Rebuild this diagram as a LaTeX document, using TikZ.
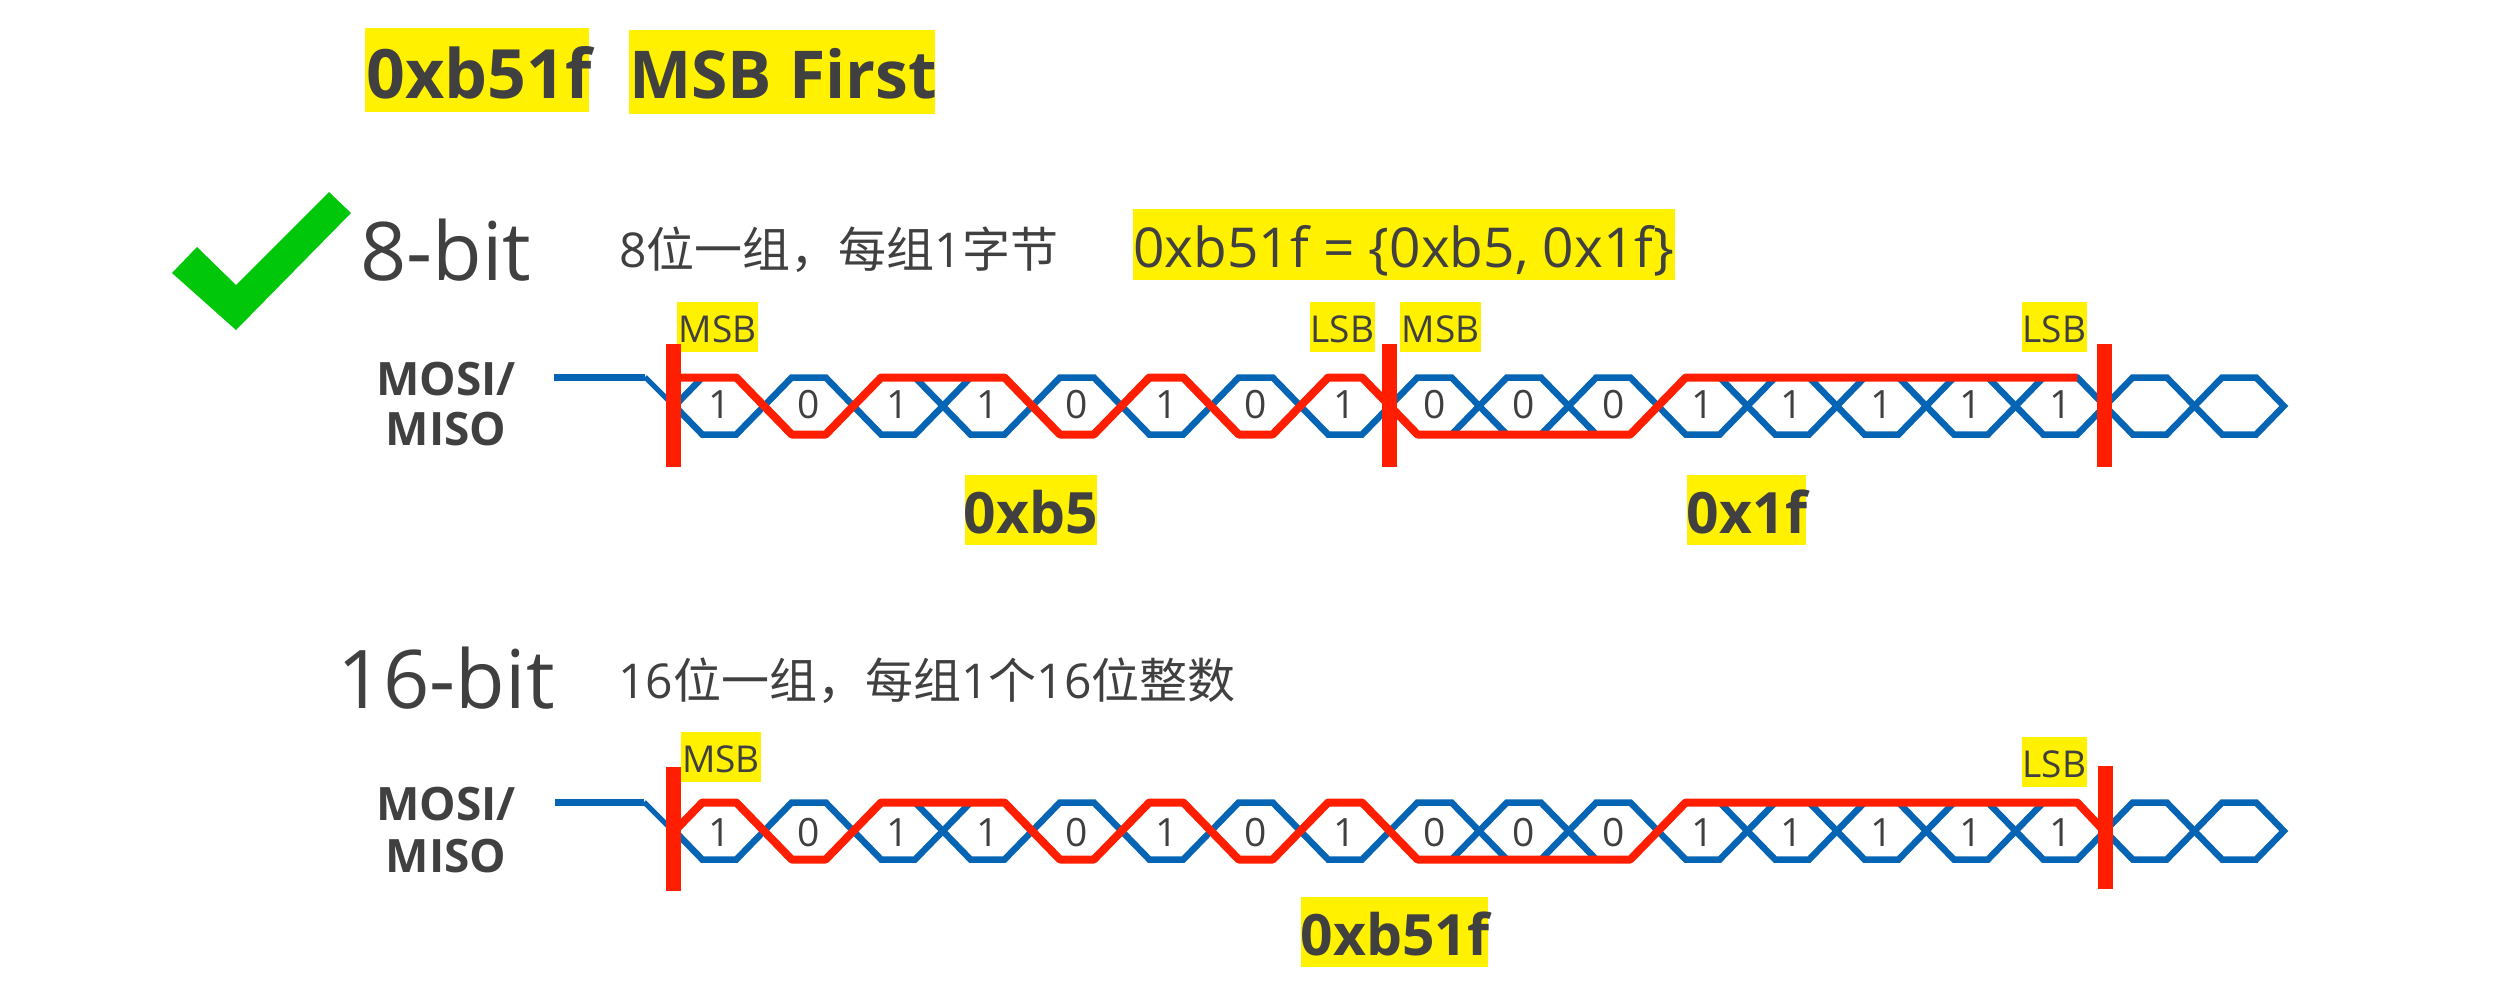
\documentclass[tikz,border=0pt]{standalone}
\usepackage{fontspec}
\setmainfont{Open Sans}
\newfontfamily\cjk{Noto Sans CJK SC}
\definecolor{hl}{HTML}{FFF100}
\definecolor{ink}{HTML}{404040}
\definecolor{busblue}{HTML}{0565B4}
\definecolor{busred}{HTML}{FF1E00}
\definecolor{tick}{HTML}{00C70A}
\newcommand{\fs}[1]{\fontsize{#1}{#1}\selectfont}
\newcommand{\xC}{674.6+89.4*}
\tikzset{
  x=1pt,y=-1pt,
  lab/.style={text=ink,inner sep=0pt,anchor=base west},
  labc/.style={text=ink,inner sep=0pt,anchor=base,align=center},
  hlbox/.style={fill=hl,draw=none},
  blueline/.style={draw=busblue,line width=6.5pt,line join=miter},
  redline/.style={draw=busred,line width=8pt,line join=round},
  redbar/.style={draw=busred,line width=15pt},
}
\newcommand{\hexrow}[1]{%
  \foreach \i in {0,...,17}{
    \draw[blueline] ({\xC\i},#1) -- ({\xC\i+27.7},#1-28.5) -- ({\xC\i+61.7},#1-28.5)
      -- ({\xC\i+89.4},#1) -- ({\xC\i+61.7},#1+28.5) -- ({\xC\i+27.7},#1+28.5) -- cycle;
  }}
\newcommand{\digitrow}[2]{%
  \foreach \i/\d in {0/1,1/0,2/1,3/1,4/0,5/1,6/0,7/1,8/0,9/0,10/0,11/1,12/1,13/1,14/1,15/1}{
    \node[lab,anchor=base,font=\fs{39}] (#2d\i) at ({\xC\i+44.7},#1) {\d};
  }}
\newcommand{\redbits}{0/-1,1/1,2/-1,3/-1,4/1,5/-1,6/1,7/-1,8/1,9/1,10/1,11/-1,12/-1,13/-1,14/-1,15/-1}
\begin{document}
\begin{tikzpicture}
\useasboundingbox (0,0) rectangle (2505,1002);
\fill[white] (0,0) rectangle (2505,1002);

% title
\fill[hlbox] (365,28) rectangle (589,112);
\fill[hlbox] (628.5,30) rectangle (935,114);
\node[lab,font=\bfseries\fs{68}] (title1) at (366,98) {0xb51f};
\node[lab,font=\bfseries\fs{66}] (title2) at (629,98) {MSB First};

% check mark
\fill[tick] (329,192) -- (351,213) -- (236,330) -- (172,273) -- (197,247) -- (236,285) -- cycle;

% heading row 1
\node[lab,font=\fs{81}] (h8) at (360,280) {8-bit};
\node[lab,font=\fs{48}] (d8) at (619,267) {8{\cjk 位一组，每组}1{\cjk 字节}};
\fill[hlbox] (1133,209) rectangle (1675,280);
\node[lab,font=\fs{55}] (eq) at (1133,267) {0xb51f = \{0xb5, 0x1f\}};

% row 1 labels
\node[labc,font=\bfseries\fs{46}] (mm1a) at (446,395) {MOSI/};
\node[labc,font=\bfseries\fs{46}] (mm1b) at (446,445) {MISO};
\fill[hlbox] (677,302) rectangle (758,352);
\fill[hlbox] (1310,302) rectangle (1375,352);
\fill[hlbox] (1400,302) rectangle (1481,352);
\fill[hlbox] (2022,302) rectangle (2087,352);
\node[labc,font=\fs{37}] (m1) at (717.5,342) {MSB};
\node[labc,font=\fs{37}] (l1) at (1342.5,342) {LSB};
\node[labc,font=\fs{37}] (m2) at (1440.5,342) {MSB};
\node[labc,font=\fs{37}] (l2) at (2054.5,342) {LSB};

% row 1 bus
\coordinate (a1) at (554,377);
\coordinate (a2) at (645,377);
\coordinate (a3) at (674,406);
\draw[draw=busblue,line width=7pt] (a1) -- (a2);
\draw[draw=busblue,line width=5pt] (a2) -- (a3);
\hexrow{406}
\draw[redline] (674,377.5) \foreach \i/\b in \redbits { -- ({\xC\i+27.7},{406+\b*28.5}) -- ({\xC\i+61.7},{406+\b*28.5}) };
\draw[redbar] (673,344) -- (673,467);
\draw[redbar] (1389,344) -- (1389,467);
\draw[redbar] (2104,344) -- (2104,467);
\digitrow{418}{r}

% row 1 hex values
\fill[hlbox] (965,475) rectangle (1097,545);
\fill[hlbox] (1687,475) rectangle (1806,545);
\node[labc,font=\bfseries\fs{57}] (v1) at (1031,533) {0xb5};
\node[labc,font=\bfseries\fs{57}] (v2) at (1747,533) {0x1f};

% heading row 2
\node[lab,font=\fs{81}] (h16) at (337,708) {16-bit};
\node[lab,font=\fs{48}] (d16) at (618,698) {16{\cjk 位一组，每组}1{\cjk 个}16{\cjk 位整数}};

% row 2 labels
\node[labc,font=\bfseries\fs{46}] (mm2a) at (446,820) {MOSI/};
\node[labc,font=\bfseries\fs{46}] (mm2b) at (446,872) {MISO};
\fill[hlbox] (681,732) rectangle (761,782);
\fill[hlbox] (2022,737) rectangle (2087,787);
\node[labc,font=\fs{37}] (m3) at (721,772) {MSB};
\node[labc,font=\fs{37}] (l3) at (2054.5,777) {LSB};

% row 2 bus
\coordinate (b1) at (555,802);
\coordinate (b2) at (644,802);
\coordinate (b3) at (673,831);
\draw[draw=busblue,line width=7pt] (b1) -- (b2);
\draw[draw=busblue,line width=5pt] (b2) -- (b3);
\hexrow{831}
\draw[redline] (674.6,831) \foreach \i/\b in \redbits { -- ({\xC\i+27.7},{831+\b*28.5}) -- ({\xC\i+61.7},{831+\b*28.5}) } -- (2104,831);
\draw[redbar] (673,767) -- (673,891);
\draw[redbar] (2105.5,766) -- (2105.5,889);
\digitrow{846}{s}

% row 2 hex value
\fill[hlbox] (1301,897) rectangle (1488,967);
\node[labc,font=\bfseries\fs{57}] (v3) at (1395,955) {0xb51f};
\end{tikzpicture}
\end{document}
